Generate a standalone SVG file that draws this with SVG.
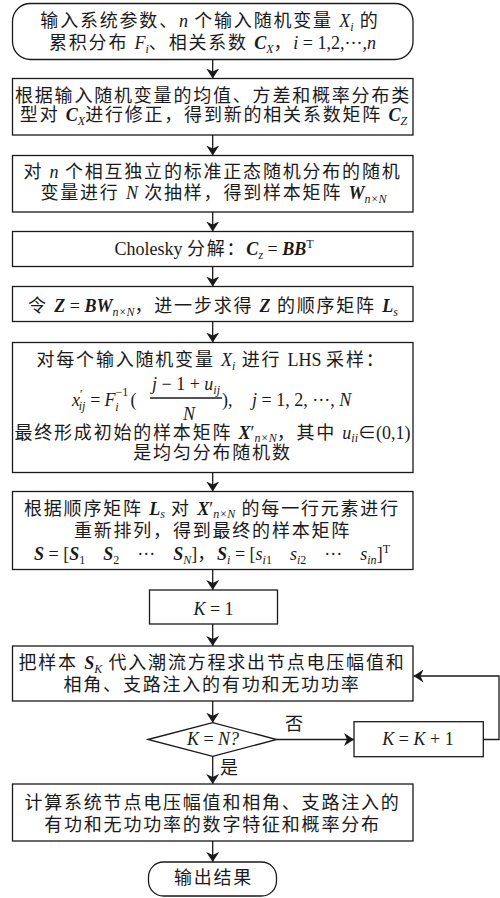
<svg xmlns="http://www.w3.org/2000/svg" width="500" height="898" viewBox="0 0 500 898">
<defs>
<style>
.box{fill:#fff;stroke:#1a1a1a;stroke-width:1.3}
.ln{fill:none;stroke:#1a1a1a;stroke-width:1.3}
.t{font-family:"Liberation Serif","Noto Sans CJK SC",serif;font-size:18px;letter-spacing:1.8px;fill:#1a1a1a;text-anchor:middle}
.st{font-family:"Liberation Serif","Noto Sans CJK SC",serif;font-size:18px;fill:#1a1a1a}
.i{font-style:italic;letter-spacing:0}
.r{letter-spacing:0}
.b{font-style:italic;font-weight:bold;letter-spacing:0}
.s{font-size:12px;font-style:italic;letter-spacing:0}
.sr{font-size:12px;letter-spacing:0}
</style>
<marker id="ah" viewBox="0 0 10 13" refX="10" refY="6.5" markerWidth="10" markerHeight="13" markerUnits="userSpaceOnUse" orient="auto">
<path d="M0,0 L10,6.5 L0,13 L3,6.5 z" fill="#1a1a1a"/>
</marker>
</defs>
<rect width="500" height="898" fill="#fff"/>

<g id="connectors">
<line class="ln" x1="212.7" y1="59.5" x2="212.7" y2="78.5" marker-end="url(#ah)"/>
<line class="ln" x1="212.7" y1="135" x2="212.7" y2="155.5" marker-end="url(#ah)"/>
<line class="ln" x1="212.7" y1="212" x2="212.7" y2="231.5" marker-end="url(#ah)"/>
<line class="ln" x1="212.7" y1="266.5" x2="212.7" y2="286.5" marker-end="url(#ah)"/>
<line class="ln" x1="212.7" y1="321.5" x2="212.7" y2="342.5" marker-end="url(#ah)"/>
<line class="ln" x1="212.7" y1="472.5" x2="212.7" y2="491.5" marker-end="url(#ah)"/>
<line class="ln" x1="212.7" y1="569.5" x2="212.7" y2="590" marker-end="url(#ah)"/>
<line class="ln" x1="212.7" y1="624" x2="212.7" y2="646" marker-end="url(#ah)"/>
<line class="ln" x1="212.7" y1="701" x2="212.7" y2="722.7" marker-end="url(#ah)"/>
<line class="ln" x1="212.7" y1="756.3" x2="212.7" y2="784" marker-end="url(#ah)"/>
<line class="ln" x1="212.7" y1="841" x2="212.7" y2="862" marker-end="url(#ah)"/>
<line class="ln" x1="276.7" y1="739.5" x2="354" y2="739.5" marker-end="url(#ah)"/>
<path class="ln" d="M483.3,739.5 H499 V676 H413.5" marker-end="url(#ah)"/>
<text class="st" x="285" y="730">否</text>
<text class="st" x="220" y="774">是</text>
</g>

<g id="n1">
<rect class="box" x="12.5" y="3.5" width="400.5" height="56" rx="18" ry="18"/>
<text class="t" x="210" y="26.5">输入系统参数、<tspan class="i">n</tspan> 个输入随机变量 <tspan class="i">X</tspan><tspan class="s" dy="4">i</tspan><tspan dy="-4"> 的</tspan></text>
<text class="t" x="212.5" y="48.5">累积分布 <tspan class="i">F</tspan><tspan class="s" dy="4">i</tspan><tspan dy="-4">、相关系数 </tspan><tspan class="b">C</tspan><tspan class="s" dy="4">X</tspan><tspan dy="-4">，</tspan><tspan class="i">i</tspan><tspan class="r"> = 1,2,···,</tspan><tspan class="i">n</tspan></text>
</g>

<g id="n2">
<rect class="box" x="12.5" y="78.5" width="400.5" height="56.5"/>
<text class="t" x="213" y="101.5">根据输入随机变量的均值、方差和概率分布类</text>
<text class="t" x="213.5" y="120.5">型对 <tspan class="b">C</tspan><tspan class="s" dy="4">X</tspan><tspan dy="-4">进行修正，得到新的相关系数矩阵 </tspan><tspan class="b">C</tspan><tspan class="s" dy="4">Z</tspan></text>
</g>

<g id="n3">
<rect class="box" x="12.5" y="155.5" width="400.5" height="56.5"/>
<text class="t" x="212.5" y="178">对 <tspan class="i">n</tspan> 个相互独立的标准正态随机分布的随机</text>
<text class="t" x="213.5" y="199">变量进行 <tspan class="i">N</tspan> 次抽样，得到样本矩阵 <tspan class="b">W</tspan><tspan class="s" dy="4">n×N</tspan></text>
</g>

<g id="n4">
<rect class="box" x="12.5" y="231.5" width="400.5" height="35"/>
<text class="t" x="214" y="255"><tspan class="r">Cholesky </tspan>分解：<tspan class="b">C</tspan><tspan class="s" dy="4">z</tspan><tspan class="r" dy="-4"> = </tspan><tspan class="b">BB</tspan><tspan class="sr" dy="-7">T</tspan></text>
</g>

<g id="n5">
<rect class="box" x="12.5" y="286.5" width="400.5" height="35"/>
<text class="t" x="213" y="312">令 <tspan class="b">Z</tspan><tspan class="r"> = </tspan><tspan class="b">BW</tspan><tspan class="s" dy="4">n×N</tspan><tspan dy="-4">，进一步求得 </tspan><tspan class="b">Z</tspan> 的顺序矩阵 <tspan class="b">L</tspan><tspan class="s" dy="4">s</tspan></text>
</g>

<g id="n6">
<rect class="box" x="12.5" y="342.5" width="400.5" height="130"/>
<text class="t" x="211" y="366">对每个输入随机变量 <tspan class="i">X</tspan><tspan class="s" dy="4">i</tspan><tspan dy="-4"> 进行 </tspan><tspan class="r">LHS </tspan>采样：</text>
<text class="st" x="72" y="406"><tspan font-style="italic">x</tspan><tspan font-size="12" dy="-8">′</tspan><tspan font-size="12" font-style="italic" dx="-4" dy="12">ij</tspan><tspan dx="5" dy="-4">=</tspan><tspan dx="4" font-style="italic">F</tspan><tspan font-size="12" dy="-10">−1</tspan><tspan font-size="12" font-style="italic" dx="-13" dy="15">i</tspan><tspan dx="12" dy="-5">(</tspan></text>
<text class="st" x="186" y="390" text-anchor="middle"><tspan font-style="italic">j</tspan> − 1 + <tspan font-style="italic">u</tspan><tspan font-size="12" font-style="italic" dy="4">ij</tspan></text>
<line class="ln" x1="150" y1="398" x2="222" y2="398"/>
<text class="st" x="189" y="420" text-anchor="middle" font-style="italic">N</text>
<text class="st" x="222" y="406">),</text>
<text class="st" x="252" y="406"><tspan font-style="italic">j</tspan> = 1, 2, ···, <tspan font-style="italic">N</tspan></text>
<text class="t" x="212.5" y="439">最终形成初始的样本矩阵 <tspan class="b">X</tspan><tspan class="r">′</tspan><tspan class="s" dy="3">n×N</tspan><tspan dy="-3">，其中 </tspan><tspan class="i">u</tspan><tspan class="s" dy="3">ii</tspan><tspan class="r" dy="-3">∈(0,1)</tspan></text>
<text class="t" x="212.5" y="459">是均匀分布随机数</text>
</g>

<g id="n7">
<rect class="box" x="12.5" y="491.5" width="400.5" height="78"/>
<text class="t" x="212" y="515">根据顺序矩阵 <tspan class="b">L</tspan><tspan class="s" dy="3">s</tspan><tspan dy="-3"> 对 </tspan><tspan class="b">X</tspan><tspan class="r">′</tspan><tspan class="s" dy="3">n×N</tspan><tspan dy="-3"> 的每一行元素进行</tspan></text>
<text class="t" x="212.5" y="537">重新排列，得到最终的样本矩阵</text>
<text class="t" x="212" y="560"><tspan class="b">S</tspan><tspan class="r"> = [</tspan><tspan class="b">S</tspan><tspan class="sr" dy="4">1</tspan><tspan class="r" dy="-4" xml:space="preserve">    </tspan><tspan class="b">S</tspan><tspan class="sr" dy="4">2</tspan><tspan class="r" dy="-4" xml:space="preserve">    ···    </tspan><tspan class="b">S</tspan><tspan class="s" dy="4">N</tspan><tspan class="r" dy="-4">]</tspan>，<tspan class="b">S</tspan><tspan class="s" dy="4">i</tspan><tspan class="r" dy="-4"> = [</tspan><tspan class="i">s</tspan><tspan class="s" dy="4">i</tspan><tspan class="sr">1</tspan><tspan class="r" dy="-4" xml:space="preserve">    </tspan><tspan class="i">s</tspan><tspan class="s" dy="4">i</tspan><tspan class="sr">2</tspan><tspan class="r" dy="-4" xml:space="preserve">    ···    </tspan><tspan class="i">s</tspan><tspan class="s" dy="4">in</tspan><tspan class="r" dy="-4">]</tspan><tspan class="sr" dy="-7">T</tspan></text>
</g>

<g id="n8">
<rect class="box" x="149.5" y="590" width="128" height="34"/>
<text class="t" x="213.5" y="615"><tspan class="i">K</tspan><tspan class="r"> = 1</tspan></text>
</g>

<g id="n9">
<rect class="box" x="12.5" y="646" width="400.5" height="55"/>
<text class="t" x="212" y="669">把样本 <tspan class="b">S</tspan><tspan class="s" dy="4">K</tspan><tspan dy="-4"> 代入潮流方程求出节点电压幅值和</tspan></text>
<text class="t" x="212" y="691">相角、支路注入的有功和无功功率</text>
</g>

<g id="n10">
<polygon class="box" points="148,739.5 212.7,722.7 276.7,739.5 212.7,756.3"/>
<text class="t" x="213" y="745"><tspan class="i">K</tspan><tspan class="r"> = </tspan><tspan class="i">N</tspan><tspan class="i">?</tspan></text>
</g>

<g id="n11">
<rect class="box" x="354" y="721.7" width="129.3" height="35"/>
<text class="t" x="418" y="745"><tspan class="i">K</tspan><tspan class="r"> = </tspan><tspan class="i">K</tspan><tspan class="r"> + 1</tspan></text>
</g>

<g id="n12">
<rect class="box" x="12.5" y="784" width="400.5" height="57"/>
<text class="t" x="212.5" y="809">计算系统节点电压幅值和相角、支路注入的</text>
<text class="t" x="212.5" y="831">有功和无功功率的数字特征和概率分布</text>
</g>

<g id="n13">
<rect class="box" x="148.5" y="862" width="128" height="34" rx="15" ry="15"/>
<text class="t" x="213.5" y="884">输出结果</text>
</g>
</svg>
